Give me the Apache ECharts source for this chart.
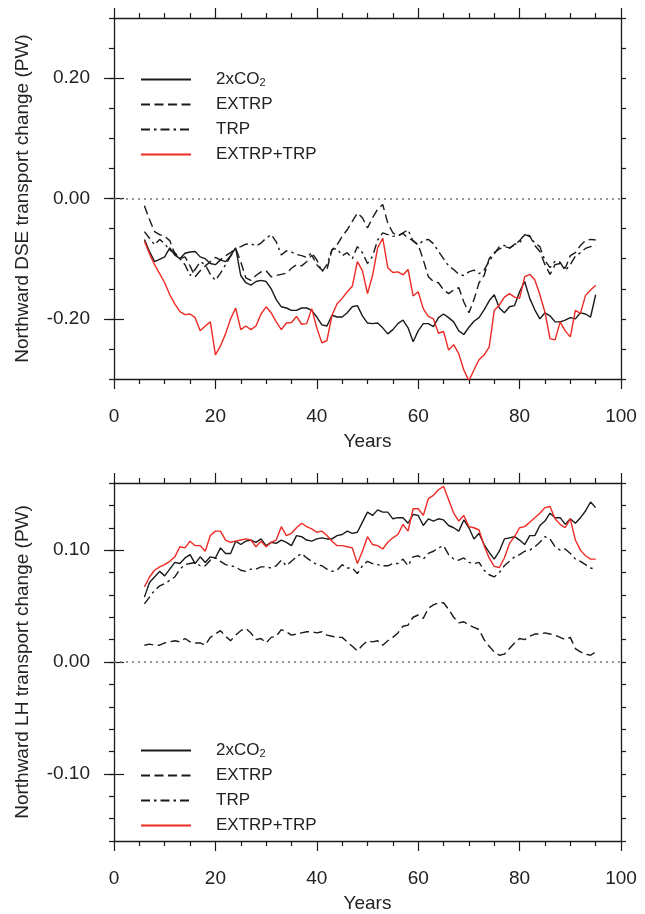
<!DOCTYPE html>
<html lang="en">
<head>
    <meta charset="UTF-8">
    <title>Northward transport change</title>
    <script src="https://cdn.jsdelivr.net/npm/echarts@6/dist/echarts.min.js"></script>
    <style>
        * { margin: 0; padding: 0; }
        html, body { width: 645px; height: 914px; background: #fff; }
    </style>
</head>
<body>
<div id="main" style="width:645px;height:914px"></div>
<script>
    // years of the running series
    var years = [6, 7, 8, 9, 10, 11, 12, 13, 14, 15, 16, 17, 18, 19, 20, 21, 22, 23, 24, 25,
        26, 27, 28, 29, 30, 31, 32, 33, 34, 35, 36, 37, 38, 39, 40, 41, 42, 43, 44, 45,
        46, 47, 48, 49, 50, 51, 52, 53, 54, 55, 56, 57, 58, 59, 60, 61, 62, 63, 64, 65,
        66, 67, 68, 69, 70, 71, 72, 73, 74, 75, 76, 77, 78, 79, 80, 81, 82, 83, 84, 85,
        86, 87, 88, 89, 90, 91, 92, 93, 94, 95];

    var seriesNames = ['2xCO2', 'EXTRP', 'TRP', 'EXTRP+TRP'];

    // upper panel: DSE transport change (PW)
    var dse2x = [-0.068, -0.088, -0.105, -0.101, -0.097, -0.082, -0.094, -0.100, -0.091, -0.089,
        -0.088, -0.097, -0.100, -0.108, -0.110, -0.102, -0.105, -0.095, -0.082, -0.128,
        -0.140, -0.144, -0.138, -0.136, -0.138, -0.150, -0.168, -0.180, -0.182, -0.186,
        -0.186, -0.182, -0.182, -0.186, -0.197, -0.210, -0.212, -0.194, -0.197, -0.197,
        -0.190, -0.180, -0.178, -0.195, -0.207, -0.208, -0.207, -0.215, -0.225, -0.218,
        -0.208, -0.202, -0.215, -0.238, -0.220, -0.208, -0.208, -0.213, -0.198, -0.192,
        -0.198, -0.205, -0.220, -0.226, -0.214, -0.204, -0.198, -0.185, -0.170, -0.160,
        -0.182, -0.190, -0.180, -0.178, -0.155, -0.138, -0.166, -0.185, -0.200, -0.190,
        -0.195, -0.205, -0.205, -0.202, -0.198, -0.200, -0.190, -0.192, -0.197, -0.160];
    var dseExt = [-0.012, -0.035, -0.055, -0.060, -0.063, -0.070, -0.092, -0.100, -0.097, -0.112,
        -0.130, -0.120, -0.112, -0.105, -0.098, -0.102, -0.095, -0.090, -0.083, -0.105,
        -0.132, -0.136, -0.128, -0.122, -0.120, -0.130, -0.128, -0.126, -0.124, -0.116,
        -0.110, -0.112, -0.105, -0.094, -0.110, -0.119, -0.118, -0.085, -0.077, -0.063,
        -0.052, -0.038, -0.024, -0.032, -0.049, -0.032, -0.018, -0.010, -0.041, -0.057,
        -0.062, -0.058, -0.066, -0.070, -0.077, -0.102, -0.130, -0.138, -0.140, -0.152,
        -0.158, -0.152, -0.148, -0.172, -0.190, -0.168, -0.140, -0.128, -0.100, -0.090,
        -0.084, -0.080, -0.082, -0.077, -0.070, -0.060, -0.062, -0.078, -0.088, -0.110,
        -0.126, -0.110, -0.108, -0.116, -0.095, -0.090, -0.078, -0.070, -0.068, -0.069];
    var dseTrp = [-0.055, -0.066, -0.077, -0.068, -0.075, -0.086, -0.090, -0.100, -0.110, -0.128,
        -0.118, -0.105, -0.110, -0.126, -0.136, -0.124, -0.110, -0.096, -0.083, -0.080,
        -0.076, -0.075, -0.079, -0.074, -0.066, -0.060, -0.072, -0.094, -0.087, -0.089,
        -0.093, -0.095, -0.098, -0.090, -0.102, -0.122, -0.110, -0.085, -0.083, -0.095,
        -0.090, -0.100, -0.080, -0.090, -0.108, -0.096, -0.069, -0.057, -0.060, -0.063,
        -0.062, -0.057, -0.052, -0.071, -0.077, -0.070, -0.068, -0.075, -0.088, -0.100,
        -0.112, -0.118, -0.126, -0.128, -0.122, -0.119, -0.125, -0.119, -0.104, -0.092,
        -0.080, -0.078, -0.083, -0.076, -0.074, -0.060, -0.063, -0.074, -0.080, -0.103,
        -0.115, -0.104, -0.106, -0.120, -0.110, -0.096, -0.090, -0.083, -0.080, -0.078];
    var dseBoth = [-0.071, -0.092, -0.110, -0.125, -0.140, -0.160, -0.175, -0.188, -0.193, -0.192,
        -0.198, -0.220, -0.212, -0.205, -0.260, -0.245, -0.225, -0.200, -0.182, -0.218,
        -0.212, -0.218, -0.212, -0.192, -0.180, -0.190, -0.205, -0.218, -0.207, -0.206,
        -0.196, -0.209, -0.208, -0.183, -0.215, -0.240, -0.236, -0.194, -0.175, -0.166,
        -0.155, -0.146, -0.105, -0.120, -0.158, -0.128, -0.082, -0.066, -0.115, -0.123,
        -0.122, -0.127, -0.118, -0.162, -0.155, -0.183, -0.196, -0.200, -0.224, -0.221,
        -0.252, -0.243, -0.258, -0.285, -0.303, -0.285, -0.268, -0.260, -0.247, -0.186,
        -0.177, -0.164, -0.158, -0.164, -0.166, -0.130, -0.126, -0.135, -0.160, -0.189,
        -0.233, -0.235, -0.205, -0.220, -0.230, -0.186, -0.191, -0.161, -0.152, -0.144];

    // lower panel: LH transport change (PW)
    var lh2x = [0.058, 0.071, 0.076, 0.081, 0.077, 0.083, 0.089, 0.088, 0.093, 0.096,
        0.088, 0.094, 0.089, 0.094, 0.093, 0.102, 0.097, 0.097, 0.108, 0.105,
        0.108, 0.109, 0.107, 0.110, 0.104, 0.107, 0.106, 0.109, 0.107, 0.104,
        0.113, 0.112, 0.109, 0.108, 0.110, 0.111, 0.110, 0.110, 0.113, 0.114,
        0.117, 0.115, 0.116, 0.125, 0.134, 0.131, 0.136, 0.134, 0.134, 0.128,
        0.129, 0.129, 0.124, 0.132, 0.131, 0.122, 0.128, 0.126, 0.128, 0.127,
        0.122, 0.120, 0.117, 0.127, 0.120, 0.110, 0.115, 0.105, 0.098, 0.092,
        0.099, 0.110, 0.111, 0.112, 0.109, 0.105, 0.113, 0.113, 0.122, 0.126,
        0.133, 0.129, 0.129, 0.123, 0.128, 0.124, 0.129, 0.135, 0.143, 0.138];
    var lhExt = [0.015, 0.016, 0.015, 0.015, 0.017, 0.018, 0.019, 0.018, 0.021, 0.018,
        0.017, 0.017, 0.015, 0.022, 0.025, 0.028, 0.023, 0.019, 0.024, 0.028,
        0.030, 0.026, 0.020, 0.021, 0.017, 0.022, 0.023, 0.029, 0.027, 0.024,
        0.025, 0.026, 0.027, 0.027, 0.026, 0.027, 0.024, 0.023, 0.022, 0.022,
        0.018, 0.014, 0.010, 0.015, 0.019, 0.018, 0.019, 0.015, 0.019, 0.022,
        0.026, 0.032, 0.033, 0.040, 0.042, 0.039, 0.048, 0.051, 0.053, 0.053,
        0.047, 0.040, 0.035, 0.036, 0.033, 0.031, 0.029, 0.020, 0.014, 0.009,
        0.006, 0.007, 0.012, 0.017, 0.021, 0.020, 0.023, 0.025, 0.025, 0.026,
        0.025, 0.024, 0.022, 0.020, 0.022, 0.012, 0.009, 0.007, 0.006, 0.009];
    var lhTrp = [0.052, 0.058, 0.064, 0.068, 0.070, 0.073, 0.076, 0.083, 0.087, 0.088,
        0.089, 0.086, 0.086, 0.091, 0.093, 0.090, 0.087, 0.086, 0.085, 0.082,
        0.081, 0.083, 0.083, 0.085, 0.085, 0.084, 0.086, 0.091, 0.086, 0.090,
        0.094, 0.097, 0.093, 0.090, 0.087, 0.086, 0.083, 0.081, 0.082, 0.087,
        0.084, 0.084, 0.079, 0.086, 0.090, 0.088, 0.087, 0.086, 0.086, 0.088,
        0.088, 0.092, 0.086, 0.094, 0.095, 0.092, 0.097, 0.099, 0.102, 0.104,
        0.096, 0.092, 0.091, 0.093, 0.089, 0.088, 0.089, 0.082, 0.078, 0.076,
        0.080, 0.086, 0.090, 0.094, 0.096, 0.099, 0.100, 0.103, 0.107, 0.112,
        0.110, 0.103, 0.100, 0.101, 0.097, 0.092, 0.090, 0.087, 0.084, 0.083];
    var lhBoth = [0.067, 0.076, 0.082, 0.085, 0.087, 0.090, 0.094, 0.103, 0.102, 0.108,
        0.104, 0.104, 0.099, 0.113, 0.117, 0.117, 0.109, 0.107, 0.108, 0.109,
        0.110, 0.109, 0.103, 0.108, 0.103, 0.107, 0.109, 0.121, 0.113, 0.115,
        0.120, 0.124, 0.121, 0.119, 0.116, 0.117, 0.113, 0.108, 0.104, 0.104,
        0.103, 0.102, 0.088, 0.099, 0.112, 0.105, 0.104, 0.101, 0.107, 0.111,
        0.114, 0.123, 0.117, 0.137, 0.137, 0.131, 0.146, 0.149, 0.154, 0.157,
        0.145, 0.133, 0.126, 0.131, 0.121, 0.120, 0.118, 0.104, 0.093, 0.0855,
        0.0845, 0.093, 0.106, 0.112, 0.120, 0.121, 0.125, 0.129, 0.133, 0.138,
        0.139, 0.128, 0.123, 0.120, 0.128, 0.109, 0.100, 0.095, 0.092, 0.092];

    var dseTicks = [-0.2, 0, 0.2];
    var lhTicks = [-0.1, 0, 0.1];

    var FONT = '"Liberation Sans", Arial, Helvetica, sans-serif';
    var AXIS_COLOR = '#1a1a1a';

    function pairs(vals) {
        return years.map(function (y, i) { return [y, vals[i]]; });
    }

    function xAxes(gridIndex, position, withLabels) {
        return {
            type: 'value', gridIndex: gridIndex, position: position,
            min: 0, max: 100, interval: 20,
            name: withLabels ? 'Years' : '',
            nameLocation: 'middle', nameGap: 53,
            nameTextStyle: {fontFamily: FONT, fontSize: 19, color: '#222'},
            axisLine: {show: true, onZero: false, lineStyle: {color: AXIS_COLOR, width: 1.3}},
            axisTick: {show: true, inside: false, length: 10, lineStyle: {color: AXIS_COLOR, width: 1.2}},
            minorTick: {show: true, splitNumber: 4, length: 5, lineStyle: {color: AXIS_COLOR, width: 1.2}},
            axisLabel: {show: withLabels, margin: 28, fontFamily: FONT, fontSize: 19, color: '#222'},
            splitLine: {show: false}
        };
    }

    // y axes: short ticks every step, long ticks only at labelled values
    function yAxes(gridIndex, lim, step, ticks, name) {
        var base = {type: 'value', gridIndex: gridIndex, min: -lim, max: lim, interval: step, splitLine: {show: false}};
        var list = [];
        ['left', 'right'].forEach(function (pos) {
            list.push(Object.assign({}, base, {
                position: pos,
                name: pos === 'left' ? name : '',
                nameLocation: 'middle', nameGap: 82,
                nameTextStyle: {fontFamily: FONT, fontSize: 19, color: '#222'},
                axisLine: {show: true, onZero: false, lineStyle: {color: AXIS_COLOR, width: 1.3}},
                axisTick: {show: true, inside: false, length: 5, lineStyle: {color: AXIS_COLOR, width: 1.2}},
                axisLabel: {
                    show: pos === 'left', customValues: ticks, margin: 24,
                    fontFamily: FONT, fontSize: 19, color: '#222',
                    formatter: function (v) { return v.toFixed(2); }
                }
            }));
            list.push(Object.assign({}, base, {
                position: pos,
                axisLine: {show: false},
                axisTick: {show: true, inside: false, length: 10, customValues: ticks,
                    lineStyle: {color: AXIS_COLOR, width: 1.2}},
                axisLabel: {show: false}
            }));
        });
        return list;
    }

    var styles = {
        '2xCO2': {color: '#1a1a1a', type: 'solid'},
        'EXTRP': {color: '#1a1a1a', type: [9, 4.5]},
        'TRP': {color: '#1a1a1a', type: [9, 4, 2.5, 4]},
        'EXTRP+TRP': {color: '#ee2a24', type: 'solid'}
    };

    function makeSeries(name, vals, gridIndex) {
        var s = {
            name: name, type: 'line',
            xAxisIndex: gridIndex * 2, yAxisIndex: gridIndex * 4,
            data: pairs(vals),
            showSymbol: false, symbol: 'none',
            color: styles[name].color,
            lineStyle: {color: styles[name].color, width: 1.4, type: styles[name].type},
            z: name === 'EXTRP+TRP' ? 4 : 3
        };
        if (name === '2xCO2') {
            s.markLine = {
                silent: true, symbol: 'none', label: {show: false},
                lineStyle: {color: '#777', width: 1.5, type: [2, 4]},
                data: [{yAxis: 0}]
            };
        }
        return s;
    }

    function legend(top) {
        return {
            orient: 'vertical', left: 140, top: top, padding: 0,
            itemWidth: 50, itemHeight: 17, itemGap: 8,
            itemStyle: {opacity: 0},
            data: seriesNames,
            formatter: function (n) { return n === '2xCO2' ? '{a|2xCO}{s|2}' : '{a|' + n + '}'; },
            textStyle: {
                fontFamily: FONT, fontSize: 17, color: '#222',
                padding: [0, 0, 0, 20],
                rich: {
                    a: {fontFamily: FONT, fontSize: 17, lineHeight: 17, color: '#222'},
                    s: {fontFamily: FONT, fontSize: 11, lineHeight: 11, padding: [6, 0, 0, 0], color: '#222'}
                }
            }
        };
    }

    var myChart = echarts.init(document.getElementById('main'), null, {renderer: 'canvas'});

    var option = {
        animation: false,
        backgroundColor: '#fff',
        grid: [
            {left: 114, right: 24, top: 18, height: 361},
            {left: 114, right: 24, top: 483, height: 362}
        ],
        legend: [legend(71), legend(742)],
        xAxis: [xAxes(0, 'bottom', true), xAxes(0, 'top', false), xAxes(1, 'bottom', true), xAxes(1, 'top', false)],
        yAxis: yAxes(0, 0.3, 0.05, dseTicks, 'Northward DSE transport change (PW)')
            .concat(yAxes(1, 0.16, 0.02, lhTicks, 'Northward LH transport change (PW)')),
        series: [
            makeSeries('2xCO2', dse2x, 0),
            makeSeries('EXTRP', dseExt, 0),
            makeSeries('TRP', dseTrp, 0),
            makeSeries('EXTRP+TRP', dseBoth, 0),
            makeSeries('2xCO2', lh2x, 1),
            makeSeries('EXTRP', lhExt, 1),
            makeSeries('TRP', lhTrp, 1),
            makeSeries('EXTRP+TRP', lhBoth, 1)
        ]
    };

    myChart.setOption(option);
</script>
</body>
</html>
